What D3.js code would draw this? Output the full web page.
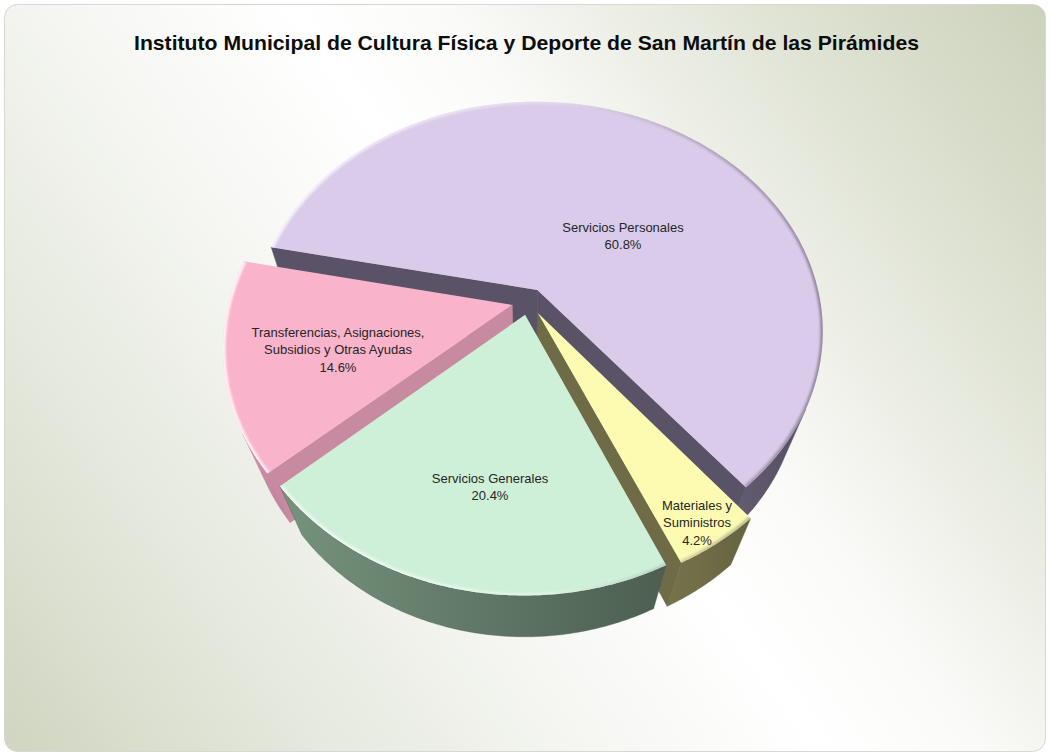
<!DOCTYPE html>
<html>
<head>
<meta charset="utf-8">
<script src="https://cdn.jsdelivr.net/npm/d3@7"></script>
<style>
  html, body { margin: 0; padding: 0; background: #ffffff; }
  svg { display: block; }
</style>
</head>
<body>
<svg id="chart" width="1050" height="754"></svg>
<script>
// ---- data ----
const chartTitle = "Instituto Municipal de Cultura Física y Deporte de San Martín de las Pirámides";
const categories = [
  "Servicios Personales",
  "Materiales y Suministros",
  "Servicios Generales",
  "Transferencias, Asignaciones, Subsidios y Otras Ayudas"
];
const shares = [60.8, 4.2, 20.4, 14.6];
const labelLines = [
  ["Servicios Personales"],
  ["Materiales y", "Suministros"],
  ["Servicios Generales"],
  ["Transferencias, Asignaciones,", "Subsidios y Otras Ayudas"]
];

// ---- styling ----
const topColors = ["#d9cbe9", "#fdfbb2", "#cff0d8", "#f9b4cb"];
const rimColors = [["#655d73", "#564f63"], ["#77744c", "#65623f"], ["#75937d", "#4c5e50"], ["#d292a9", "#c0819a"]];
const radialColors = ["#5a5367", "#6e6b46", "#5d7463", "#c88aa0"];
const labelAnchors = [[623, 227], [697, 505], [490, 478], [338, 332]];

// ---- 3D view ----
const deg = Math.PI / 180;
const view = { tilt: 52.75 * deg, dist: 3.41, focal: 966, cx: 528.7, cy: 301.5 };
const thickness = 0.36, explode = 0.06, firstAngle = -78.5 * deg;
const sT = Math.sin(view.tilt), cT = Math.cos(view.tilt);
const camPos = [0, view.dist * sT, view.dist * cT];

function project(p) {
  const [x, y, z] = p;
  const w = view.dist - sT * y - cT * z;
  const up = cT * y - sT * z;
  return [view.cx + view.focal * x / w, view.cy - view.focal * up / w];
}

const svg = d3.select("#chart");
const defs = svg.append("defs");

// background panel
const bg = defs.append("linearGradient").attr("id", "panelGrad")
  .attr("gradientUnits", "userSpaceOnUse")
  .attr("x1", 1046).attr("y1", 4).attr("x2", 4).attr("y2", 752);
[[0, "#cbd2bb"], [0.18, "#e0e4d5"], [0.38, "#fafaf8"], [0.48, "#ffffff"],
 [0.62, "#f6f7f3"], [0.82, "#e3e7db"], [1, "#cfd5c0"]].forEach(([o, c]) =>
  bg.append("stop").attr("offset", o).attr("stop-color", c));

svg.append("rect")
  .attr("x", 4.5).attr("y", 4.5).attr("width", 1041).attr("height", 747)
  .attr("rx", 13).attr("fill", "url(#panelGrad)")
  .attr("stroke", "#d6d8d2").attr("stroke-width", 1);

svg.append("text")
  .attr("x", 526.5).attr("y", 50)
  .attr("text-anchor", "middle")
  .attr("font-family", "'Liberation Sans', Arial, sans-serif")
  .attr("font-weight", "bold")
  .attr("font-size", 21)
  .attr("textLength", 785)
  .attr("lengthAdjust", "spacingAndGlyphs")
  .attr("fill", "#0d0d0d")
  .text(chartTitle);

// bevel shading along outer edges of slice tops
const bevel = defs.append("linearGradient").attr("id", "bevelGrad")
  .attr("gradientUnits", "userSpaceOnUse")
  .attr("x1", 230).attr("y1", 0).attr("x2", 830).attr("y2", 0);
bevel.append("stop").attr("offset", 0).attr("stop-color", "#ffffff").attr("stop-opacity", 0.85);
bevel.append("stop").attr("offset", 0.55).attr("stop-color", "#ffffff").attr("stop-opacity", 0.25);
bevel.append("stop").attr("offset", 0.8).attr("stop-color", "#3a3446").attr("stop-opacity", 0.25);
bevel.append("stop").attr("offset", 1).attr("stop-color", "#3a3446").attr("stop-opacity", 0.45);
defs.append("filter").attr("id", "soft").attr("x", "-5%").attr("y", "-5%").attr("width", "110%").attr("height", "110%")
  .append("feGaussianBlur").attr("stdDeviation", 1.3);

// ---- pie layout ----
const pie = d3.pie().sort(null).startAngle(firstAngle).endAngle(firstAngle + 2 * Math.PI);
const arcs = pie(shares);
const line = d3.line();

const slices = arcs.map((a, i) => {
  const mid = (a.startAngle + a.endAngle) / 2;
  const off = [explode * Math.sin(mid), 0, -explode * Math.cos(mid)];
  const pt = (t, r, y) => [off[0] + r * Math.sin(t), y, off[2] - r * Math.cos(t)];
  const centroidZ = pt(mid, 0.6, 0)[2];
  return { a, i, mid, pt, centroidZ };
});

function facing(normal, p) {
  const v = [camPos[0] - p[0], camPos[1] - p[1], camPos[2] - p[2]];
  return normal[0] * v[0] + normal[1] * v[1] + normal[2] * v[2] > 0;
}

const pieG = svg.append("g");

slices.sort((s1, s2) => s1.centroidZ - s2.centroidZ).forEach(s => {
  const { a, i, pt } = s;
  const a0 = a.startAngle, a1 = a.endAngle;
  const n = Math.max(4, Math.ceil((a1 - a0) / (0.5 * deg)));
  const angles = d3.range(n + 1).map(k => a0 + (a1 - a0) * k / n);
  const g = pieG.append("g");

  // radial side faces
  [[a0, [-Math.cos(a0), 0, -Math.sin(a0)]], [a1, [Math.cos(a1), 0, Math.sin(a1)]]].forEach(([t, nrm]) => {
    if (!facing(nrm, pt(t, 0.5, -thickness / 2))) return;
    const quad = [pt(t, 0, 0), pt(t, 1, 0), pt(t, 1, -thickness), pt(t, 0, -thickness)].map(project);
    g.append("path").attr("d", line(quad) + "Z")
      .attr("fill", radialColors[i]).attr("stroke", radialColors[i]).attr("stroke-width", 0.6);
  });

  // outer curved side, only the part turned toward the viewer
  const runs = [];
  let cur = null;
  angles.forEach(t => {
    const vis = facing([Math.sin(t), 0, -Math.cos(t)], pt(t, 1, -thickness / 2));
    if (vis) { if (!cur) { cur = []; runs.push(cur); } cur.push(t); } else cur = null;
  });
  runs.forEach((run, r) => {
    if (run.length < 2) return;
    const gid = `rim${i}_${r}`;
    const gr = defs.append("linearGradient").attr("id", gid);
    gr.append("stop").attr("offset", 0).attr("stop-color", rimColors[i][0]);
    gr.append("stop").attr("offset", 1).attr("stop-color", rimColors[i][1]);
    const topPts = run.map(t => project(pt(t, 1, 0)));
    const botPts = run.map(t => project(pt(t, 1, -thickness))).reverse();
    g.append("path").attr("d", line(topPts.concat(botPts)) + "Z")
      .attr("fill", `url(#${gid})`).attr("stroke", rimColors[i][1]).attr("stroke-width", 0.4);
  });

  // top face
  const topFace = [project(pt(a0, 0, 0))].concat(angles.map(t => project(pt(t, 1, 0))));
  const clipId = `topClip${i}`;
  defs.append("clipPath").attr("id", clipId).append("path").attr("d", line(topFace) + "Z");
  g.append("path").attr("d", line(topFace) + "Z").attr("fill", topColors[i]);
  g.append("path")
    .attr("d", line(angles.map(t => project(pt(t, 1, 0)))))
    .attr("fill", "none").attr("stroke", "url(#bevelGrad)").attr("stroke-width", 5)
    .attr("filter", "url(#soft)").attr("clip-path", `url(#${clipId})`);
});

// ---- data labels ----
const fmt = d3.format(".1f");
const labels = svg.append("g")
  .attr("font-family", "'Liberation Sans', Arial, sans-serif")
  .attr("font-size", 13)
  .attr("fill", "#262626")
  .attr("text-anchor", "middle");
categories.forEach((c, i) => {
  const lines = labelLines[i].concat([fmt(shares[i]) + "%"]);
  const [x, y] = labelAnchors[i];
  const t = labels.append("text").attr("x", x).attr("y", y);
  lines.forEach((ln, k) => {
    t.append("tspan").attr("x", x).attr("y", y + k * 17.5).attr("dy", "0.35em").text(ln);
  });
});
</script>
</body>
</html>
